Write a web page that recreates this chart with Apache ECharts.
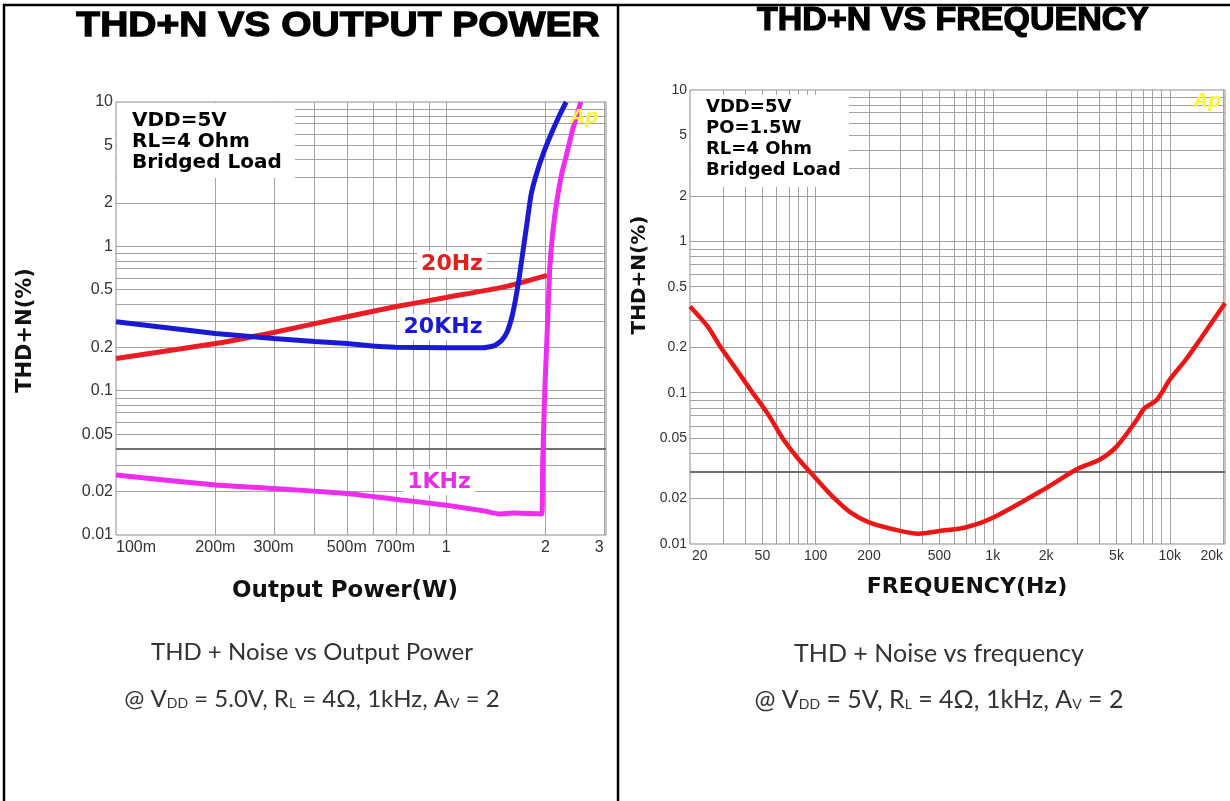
<!DOCTYPE html>
<html>
<head>
<meta charset="utf-8">
<title>THD+N</title>
<script src="https://cdn.jsdelivr.net/npm/echarts@6/dist/echarts.min.js"></script>
<style>
html, body { margin: 0; padding: 0; background: #fff; }
#chart { width: 1230px; height: 801px; }
</style>
</head>
<body>
<div id="chart"></div>
<script>
// 左图: THD+N vs Output Power (W -> %)
const power20Hz = [0.1, 0.2, 0.3, 0.5, 0.7, 1.0, 1.5, 2.02];
const thd20Hz = [0.167, 0.212, 0.253, 0.325, 0.381, 0.442, 0.524, 0.63];

const power20kHz = [0.1, 0.2, 0.3, 0.4, 0.5, 0.6, 0.7, 1.0, 1.29, 1.4, 1.47, 1.53, 1.58, 1.62, 1.66, 1.70, 1.75, 1.81, 1.88, 1.97, 2.08, 2.2, 2.31];
const thd20kHz = [0.30, 0.249, 0.230, 0.219, 0.212, 0.204, 0.200, 0.198, 0.198, 0.205, 0.222, 0.255, 0.32, 0.42, 0.58, 0.85, 1.35, 2.3, 3.2, 4.4, 6.0, 8.0, 10];

const power1kHz = [0.1, 0.2, 0.3, 0.5, 0.7, 1.0, 1.3, 1.45, 1.6, 1.95, 1.96, 1.99, 2.03, 2.06, 2.1, 2.16, 2.24, 2.31, 2.42, 2.56];
const thd1kHz = [0.026, 0.0222, 0.021, 0.0194, 0.0177, 0.0161, 0.0147, 0.014, 0.0142, 0.014, 0.03, 0.1, 0.3, 0.7, 1.2, 2.0, 3.2, 4.2, 6.5, 10];

// 右图: THD+N vs Frequency (Hz -> %)
const freqHz = [19.5, 24.5, 29, 36, 44, 54, 65, 79, 100, 123, 158, 200, 300, 380, 500, 690, 1000, 2000, 3000, 4000, 5000, 6500, 7200, 8400, 10000, 12300, 15000, 20500];
const thdFreq = [0.371, 0.274, 0.2, 0.14, 0.1, 0.0716, 0.05, 0.037, 0.0272, 0.0209, 0.0161, 0.0139, 0.0122, 0.0117, 0.0122, 0.0128, 0.0149, 0.0234, 0.0313, 0.036, 0.044, 0.066, 0.079, 0.089, 0.122, 0.165, 0.229, 0.39];

// 刻度
const powerTicks = [0.1, 0.2, 0.3, 0.5, 0.7, 1, 2, 3];
const powerTickLabels = ['100m', '200m', '300m', '500m', '700m', '1', '2', '3'];
const freqTicks = [20, 50, 100, 200, 500, 1000, 2000, 5000, 10000, 20000];
const freqTickLabels = ['20', '50', '100', '200', '500', '1k', '2k', '5k', '10k', '20k'];
const thdTicks = [0.01, 0.02, 0.05, 0.1, 0.2, 0.5, 1, 2, 5, 10];
const thdTickLabels = ['0.01', '0.02', '0.05', '0.1', '0.2', '0.5', '1', '2', '5', '10'];

// 网格线
const powerGrid = [0.2, 0.3, 0.4, 0.5, 0.6, 0.7, 0.8, 0.9, 1, 2, 3];
const freqGrid = [30, 40, 50, 60, 70, 80, 90, 100, 200, 300, 400, 500, 600, 700, 800, 900,
    1000, 2000, 3000, 4000, 5000, 6000, 7000, 8000, 9000, 10000, 20000];
const thdGrid = [0.02, 0.03, 0.04, 0.05, 0.06, 0.07, 0.08, 0.09, 0.1, 0.2, 0.3, 0.4, 0.5, 0.6, 0.7, 0.8, 0.9,
    1, 2, 3, 4, 5, 6, 7, 8, 9];

const lg = Math.log10;
const pairs = (xs, ys) => xs.map((x, i) => [lg(x), lg(ys[i])]);
const fmt = (values, labels) => v => {
    const i = values.findIndex(t => Math.abs(lg(t) - v) < 1e-6);
    return i < 0 ? '' : labels[i];
};

const gridColor = '#a3a3a3';
const gridLines = (xs, ys, darkY) => ({
    silent: true,
    z: 1,
    symbol: 'none',
    label: { show: false },
    emphasis: { disabled: true },
    lineStyle: { color: gridColor, width: 1, type: 'solid' },
    data: xs.map(v => ({ xAxis: lg(v) })).concat(ys.map(v => ({
        yAxis: lg(v),
        lineStyle: { color: v === darkY ? '#6f6f6f' : gridColor, width: v === darkY ? 2 : 1, type: 'solid' }
    })))
});

const tickFont = { fontFamily: 'Liberation Sans', color: '#333' };
const nameFont = { fontFamily: 'DejaVu Sans', fontWeight: 'bold', color: '#111' };
const captionFont = '24px Lato';

const myChart = echarts.init(document.getElementById('chart'));

myChart.setOption({
    animation: false,
    backgroundColor: '#fff',
    grid: [
        { left: 116, top: 102, width: 490, height: 433, show: true, borderColor: '#8c8c8c', borderWidth: 1 },
        { left: 690, top: 90, width: 535, height: 454, show: true, borderColor: '#8c8c8c', borderWidth: 1 }
    ],
    xAxis: [
        {
            gridIndex: 0, type: 'value', min: lg(0.1), max: lg(3.05),
            axisLine: { show: false }, axisTick: { show: false }, splitLine: { show: false },
            axisLabel: Object.assign({
                customValues: powerTicks.map(lg), formatter: fmt(powerTicks, powerTickLabels),
                fontSize: 16, margin: 5, alignMinLabel: 'left', alignMaxLabel: 'right'
            }, tickFont),
            name: 'Output Power(W)', nameLocation: 'middle', nameGap: 45,
            nameTextStyle: Object.assign({ fontSize: 23, padding: [0, 32, 0, 0] }, nameFont)
        },
        {
            gridIndex: 1, type: 'value', min: lg(19.5), max: lg(20500),
            axisLine: { show: false }, axisTick: { show: false }, splitLine: { show: false },
            axisLabel: Object.assign({
                customValues: freqTicks.map(lg), formatter: fmt(freqTicks, freqTickLabels),
                fontSize: 14, margin: 5, alignMinLabel: 'left', alignMaxLabel: 'right'
            }, tickFont),
            name: 'FREQUENCY(Hz)', nameLocation: 'middle', nameGap: 32,
            nameTextStyle: Object.assign({ fontSize: 22, padding: [0, 0, 0, 19] }, nameFont)
        }
    ],
    yAxis: [
        {
            gridIndex: 0, type: 'value', min: -2, max: 1,
            axisLine: { show: false }, axisTick: { show: false }, splitLine: { show: false },
            axisLabel: Object.assign({
                customValues: thdTicks.map(lg), formatter: fmt(thdTicks, thdTickLabels),
                fontSize: 16, margin: 3
            }, tickFont),
            name: 'THD+N(%)', nameLocation: 'middle', nameGap: 80, nameRotate: 90,
            nameTextStyle: Object.assign({ fontSize: 21, padding: [0, 24, 0, 0] }, nameFont)
        },
        {
            gridIndex: 1, type: 'value', min: -2, max: 1,
            axisLine: { show: false }, axisTick: { show: false }, splitLine: { show: false },
            axisLabel: Object.assign({
                customValues: thdTicks.map(lg), formatter: fmt(thdTicks, thdTickLabels),
                fontSize: 14, margin: 3
            }, tickFont),
            name: 'THD+N(%)', nameLocation: 'middle', nameGap: 40, nameRotate: 90,
            nameTextStyle: Object.assign({ fontSize: 20, padding: [0, 0, 0, 84] }, nameFont)
        }
    ],
    series: [
        {
            name: '20Hz', type: 'line', xAxisIndex: 0, yAxisIndex: 0, z: 3,
            data: pairs(power20Hz, thd20Hz), showSymbol: false, smooth: 0.2,
            lineStyle: { color: '#ec1c24', width: 5 },
            markLine: gridLines(powerGrid, thdGrid, 0.04)
        },
        {
            name: '20KHz', type: 'line', xAxisIndex: 0, yAxisIndex: 0, z: 4,
            data: pairs(power20kHz, thd20kHz), showSymbol: false, smooth: 0.15,
            lineStyle: { color: '#1a1ad4', width: 5 }
        },
        {
            name: '1KHz', type: 'line', xAxisIndex: 0, yAxisIndex: 0, z: 5,
            data: pairs(power1kHz, thd1kHz), showSymbol: false, smooth: 0.15,
            lineStyle: { color: '#f02cf0', width: 5 }
        },
        {
            name: 'THD+N', type: 'line', xAxisIndex: 1, yAxisIndex: 1, z: 3,
            data: pairs(freqHz, thdFreq), showSymbol: false, smooth: 0.3,
            lineStyle: { color: '#ee1515', width: 4.5 },
            markLine: gridLines(freqGrid, thdGrid, 0.03)
        }
    ],
    graphic: [
        // 外框
        { type: 'line', z: 30, shape: { x1: 3, y1: 5, x2: 1230, y2: 5 }, style: { stroke: '#000', lineWidth: 2.5 } },
        { type: 'line', z: 30, shape: { x1: 4, y1: 4, x2: 4, y2: 801 }, style: { stroke: '#000', lineWidth: 2.5 } },
        { type: 'line', z: 30, shape: { x1: 618, y1: 4, x2: 618, y2: 801 }, style: { stroke: '#000', lineWidth: 2.5 } },
        // 标题
        {
            type: 'text', x: 338, y: 26, scaleY: 0.9, z: 20,
            style: { text: 'THD+N VS OUTPUT POWER', font: 'bold 39px "Liberation Sans"', fill: '#000', stroke: '#000', lineWidth: 1.4, align: 'center', verticalAlign: 'middle' }
        },
        {
            type: 'text', x: 953, y: 21, scaleY: 0.95, z: 20,
            style: { text: 'THD+N VS FREQUENCY', font: 'bold 34px "Liberation Sans"', fill: '#000', stroke: '#000', lineWidth: 1.3, align: 'center', verticalAlign: 'middle' }
        },
        // 条件说明框
        { type: 'rect', z: 10, shape: { x: 117, y: 103, width: 178, height: 75 }, style: { fill: '#fff' } },
        {
            type: 'text', x: 132, y: 110, z: 11,
            style: { text: 'VDD=5V\nRL=4 Ohm\nBridged Load', font: 'bold 20px "DejaVu Sans"', lineHeight: 21, fill: '#000', verticalAlign: 'top' }
        },
        { type: 'rect', z: 10, shape: { x: 691, y: 95, width: 158, height: 92 }, style: { fill: '#fff' } },
        {
            type: 'text', x: 706, y: 97, z: 11,
            style: { text: 'VDD=5V\nPO=1.5W\nRL=4 Ohm\nBridged Load', font: 'bold 18px "DejaVu Sans"', lineHeight: 21, fill: '#000', verticalAlign: 'top' }
        },
        // 曲线标注
        {
            type: 'text', x: 452, y: 264, z: 11,
            style: { text: '20Hz', font: 'bold 22px "DejaVu Sans"', fill: '#e2201c', backgroundColor: '#fff', padding: [2, 4], align: 'center', verticalAlign: 'middle' }
        },
        {
            type: 'text', x: 443, y: 327, z: 11,
            style: { text: '20KHz', font: 'bold 22px "DejaVu Sans"', fill: '#1a1ad4', backgroundColor: '#fff', padding: [2, 4], align: 'center', verticalAlign: 'middle' }
        },
        {
            type: 'text', x: 439, y: 482, z: 11,
            style: { text: '1KHz', font: 'bold 22px "DejaVu Sans"', fill: '#e52ee5', backgroundColor: '#fff', padding: [2, 4], align: 'center', verticalAlign: 'middle' }
        },
        // Ap 标志
        {
            type: 'text', x: 584, y: 117, z: 12,
            style: { text: 'Ap', font: 'italic bold 21px "Liberation Sans"', fill: '#f7f733', align: 'center', verticalAlign: 'middle' }
        },
        {
            type: 'text', x: 1207, y: 101, z: 12,
            style: { text: 'Ap', font: 'italic bold 21px "Liberation Sans"', fill: '#f7f733', align: 'center', verticalAlign: 'middle' }
        },
        // 图注
        {
            type: 'text', x: 312, y: 652, z: 20,
            style: { text: 'THD + Noise vs Output Power', font: captionFont, fill: '#333', align: 'center', verticalAlign: 'middle' }
        },
        {
            type: 'text', x: 312, y: 699, z: 20,
            style: {
                text: '@ V{sub|DD} = 5.0V, R{sub|L} = 4Ω, 1kHz, A{sub|V} = 2',
                font: captionFont, fill: '#333', align: 'center', verticalAlign: 'middle',
                rich: { sub: { fontSize: 14, fontFamily: 'Lato', fill: '#333', padding: [9, 0, 0, 0] } }
            }
        },
        {
            type: 'text', x: 939, y: 654, z: 20,
            style: { text: 'THD + Noise vs frequency', font: '25px Lato', fill: '#333', align: 'center', verticalAlign: 'middle' }
        },
        {
            type: 'text', x: 939, y: 700, z: 20,
            style: {
                text: '@ V{sub|DD} = 5V, R{sub|L} = 4Ω, 1kHz, A{sub|V} = 2',
                font: '25px Lato', fill: '#333', align: 'center', verticalAlign: 'middle',
                rich: { sub: { fontSize: 14, fontFamily: 'Lato', fill: '#333', padding: [9, 0, 0, 0] } }
            }
        }
    ]
});

window.addEventListener('resize', function () {
    myChart.resize();
});
</script>
</body>
</html>
